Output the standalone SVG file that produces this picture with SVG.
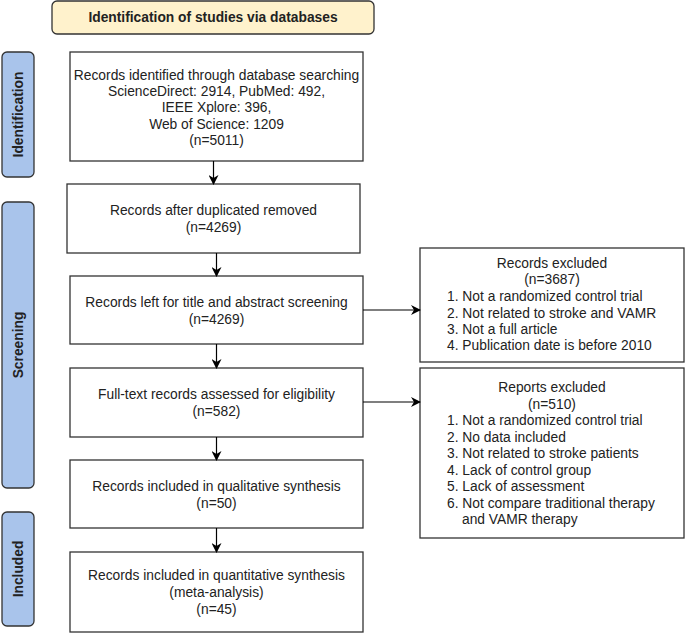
<svg xmlns="http://www.w3.org/2000/svg" width="685" height="633" viewBox="0 0 685 633">
<style>
.box{fill:#fff;stroke:#333;stroke-width:1.3}
.side{fill:#A9C4EB;stroke:#333;stroke-width:1.3}
.hdr{fill:#FFF2CC;stroke:#333;stroke-width:1.3}
text{font-family:"Liberation Sans",Arial,sans-serif;font-size:13.8px;fill:#222}
.c{text-anchor:middle}
.b{font-weight:bold}
.conn{stroke:#000;stroke-width:1.2;fill:none;marker-end:url(#ah)}
</style>
<defs>
<marker id="ah" viewBox="0 0 10 10" refX="9" refY="5" markerWidth="10" markerHeight="10" markerUnits="userSpaceOnUse" orient="auto">
<path d="M0,0 L10,5 L0,10 L3,5 Z" fill="#000"/>
</marker>
</defs>
<g id="header"><rect class="hdr" x="52" y="1" width="322" height="33" rx="5"/><text class="c b" x="213" y="22">Identification of studies via databases</text></g>
<g id="lbl-identification"><rect class="side" x="2" y="52" width="32" height="125" rx="5"/><text class="c b" transform="translate(23,114.5) rotate(-90)">Identification</text></g>
<g id="lbl-screening"><rect class="side" x="2" y="202" width="32" height="286" rx="5"/><text class="c b" transform="translate(23,345) rotate(-90)">Screening</text></g>
<g id="lbl-included"><rect class="side" x="2" y="512" width="32" height="114" rx="5"/><text class="c b" transform="translate(23,569) rotate(-90)">Included</text></g>
<g id="n1"><rect class="box" x="70" y="52" width="293" height="109"/>
<text class="c" x="216.5" y="80">Records identified through database searching</text>
<text class="c" x="216.5" y="96">ScienceDirect: 2914, PubMed: 492,</text>
<text class="c" x="216.5" y="112">IEEE Xplore: 396,</text>
<text class="c" x="216.5" y="129">Web of Science: 1209</text>
<text class="c" x="216.5" y="145">(n=5011)</text></g>
<g id="n2"><rect class="box" x="67" y="184" width="293" height="69"/>
<text class="c" x="213.5" y="215">Records after duplicated removed</text>
<text class="c" x="213.5" y="232">(n=4269)</text></g>
<g id="n3"><rect class="box" x="70" y="276" width="293" height="68"/>
<text class="c" x="216.5" y="307">Records left for title and abstract screening</text>
<text class="c" x="216.5" y="324">(n=4269)</text></g>
<g id="n4"><rect class="box" x="70" y="368" width="293" height="69"/>
<text class="c" x="216.5" y="399">Full-text records assessed for eligibility</text>
<text class="c" x="216.5" y="416">(n=582)</text></g>
<g id="n5"><rect class="box" x="70" y="460" width="293" height="68"/>
<text class="c" x="216.5" y="491">Records included in qualitative synthesis</text>
<text class="c" x="216.5" y="508">(n=50)</text></g>
<g id="n6"><rect class="box" x="70" y="552" width="293" height="80"/>
<text class="c" x="216.5" y="580">Records included in quantitative synthesis</text>
<text class="c" x="216.5" y="597">(meta-analysis)</text>
<text class="c" x="216.5" y="614">(n=45)</text></g>
<g id="r1"><rect class="box" x="420" y="248" width="264" height="114"/>
<text class="c" x="552" y="268">Records excluded</text>
<text class="c" x="552" y="284">(n=3687)</text>
<text x="447" y="301">1. Not a randomized control trial</text>
<text x="447" y="318">2. Not related to stroke and VAMR</text>
<text x="447" y="334">3. Not a full article</text>
<text x="447" y="350">4. Publication date is before 2010</text></g>
<g id="r2"><rect class="box" x="420" y="368" width="264" height="170"/>
<text class="c" x="552" y="392">Reports excluded</text>
<text class="c" x="552" y="409">(n=510)</text>
<text x="447" y="425">1. Not a randomized control trial</text>
<text x="447" y="442">2. No data included</text>
<text x="447" y="458">3. Not related to stroke patients</text>
<text x="447" y="475">4. Lack of control group</text>
<text x="447" y="491">5. Lack of assessment</text>
<text x="447" y="508">6. Not compare traditional therapy</text>
<text x="462" y="524">and VAMR therapy</text></g>
<g id="connectors">
<path class="conn" d="M213.5,161 V184"/>
<path class="conn" d="M216.5,253 V276"/>
<path class="conn" d="M216.5,344 V368"/>
<path class="conn" d="M216.5,437 V460"/>
<path class="conn" d="M216.5,528 V552"/>
<path class="conn" d="M363,310 H420"/>
<path class="conn" d="M363,402 H420"/>
</g>
</svg>
